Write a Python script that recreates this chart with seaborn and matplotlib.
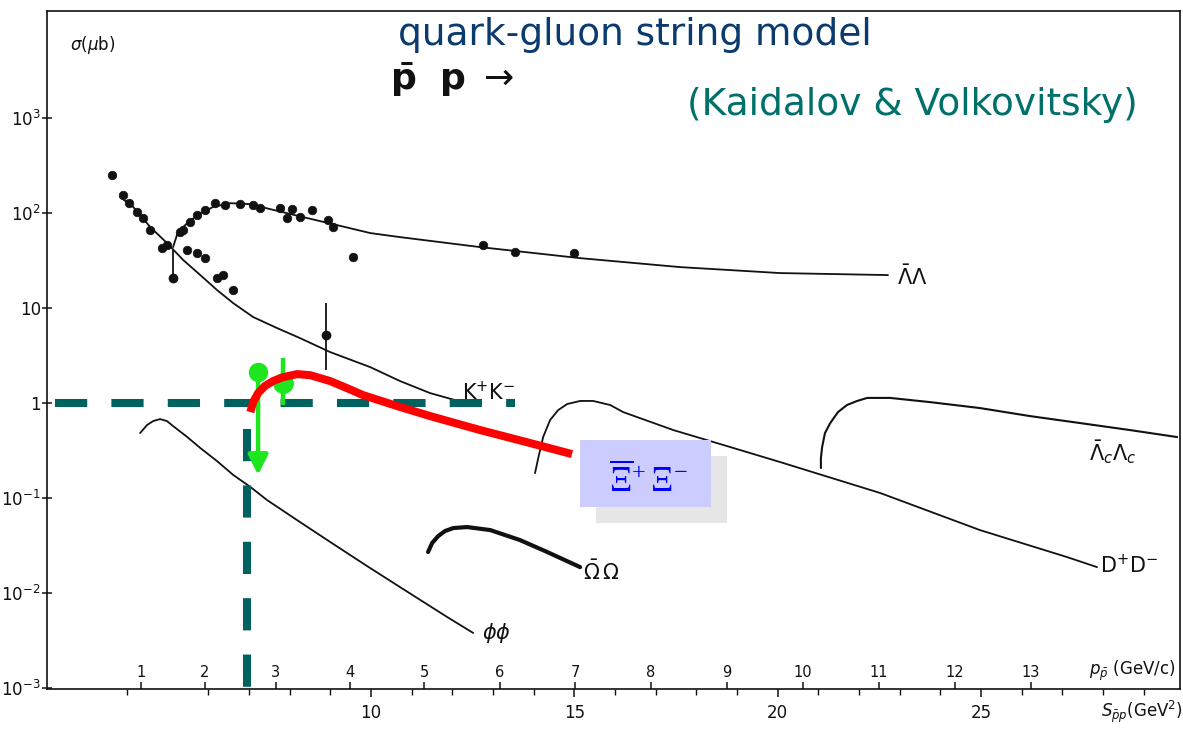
import numpy as np
import pandas as pd
import matplotlib
matplotlib.use("Agg")
import matplotlib.pyplot as plt
from matplotlib.patches import Rectangle
from matplotlib.ticker import FixedLocator, NullLocator
import seaborn as sns

sns.set_theme(style="white")
plt.rcParams["font.family"] = ["DejaVu Sans"]
plt.rcParams["mathtext.fontset"] = "dejavusans"
# serif face used by the "custom" math font set (only the Xi label uses it)
plt.rcParams["mathtext.rm"] = "Liberation Serif"
plt.rcParams["mathtext.it"] = "Liberation Serif:italic"
plt.rcParams["mathtext.bf"] = "Liberation Serif:bold"

M_P = 0.938272  # proton mass (GeV)


def s_from_p(p):
    """Invariant mass squared of pbar-p for beam momentum p (GeV/c)."""
    p = np.asarray(p, dtype=float)
    return 2 * M_P ** 2 + 2 * M_P * np.sqrt(p ** 2 + M_P ** 2)


# ---------------- model curves: s (GeV^2) vs sigma (microbarn) ----------------
lam_s = [5.13, 5.25, 5.48, 5.80, 6.12, 6.53, 7.03, 7.52, 8.33, 9.16, 9.98, 10.71,
         12.68, 15.14, 17.60, 20.06, 22.71]
lam_sig = [43.5, 62.6, 77.8, 99.1, 115, 126, 123, 109, 89.9, 74.1, 61.1, 55.4,
           43.5, 33.3, 26.8, 23.2, 22.1]

kk_s = [3.83, 4.15, 4.57, 4.98, 5.38, 5.80, 6.21, 6.61, 7.10, 7.69, 8.25, 8.99,
        9.98, 10.71, 11.45, 12.07]
kk_sig = [146, 115, 70.6, 48.0, 31.8, 22.1, 15.4, 11.2, 8.00, 6.12, 4.81, 3.43,
          2.38, 1.70, 1.27, 1.07]

phi_s = [4.32, 4.49, 4.64, 4.81, 4.98, 5.13, 5.48, 5.80, 6.21, 6.61, 7.03, 7.44,
         8.25, 9.07, 9.90, 10.71, 11.87, 12.51]
phi_sig = [0.483, 0.586, 0.645, 0.677, 0.645, 0.572, 0.438, 0.336, 0.245, 0.175,
           0.131, 0.0954, 0.0560, 0.0329, 0.0193, 0.0116, 0.00562, 0.00382]

omega_s = [11.40, 11.50, 11.65, 11.82, 12.02, 12.36, 12.93, 13.66, 14.33, 15.14]
omega_sig = [0.0271, 0.0337, 0.0399, 0.0451, 0.0484, 0.0496, 0.0461, 0.0362,
             0.0271, 0.0188]

dd_s = [14.03, 14.11, 14.23, 14.40, 14.60, 14.82, 15.14, 15.46, 15.88, 16.20,
        17.43, 18.83, 20.06, 22.52, 24.97, 27.11, 27.85]
dd_sig = [0.183, 0.264, 0.438, 0.661, 0.842, 0.974, 1.05, 1.05, 0.951, 0.801,
          0.519, 0.344, 0.239, 0.113, 0.0461, 0.0240, 0.0188]

lamc_s = [21.06, 21.06, 21.09, 21.16, 21.29, 21.48, 21.70, 21.95, 22.20, 22.52,
          22.76, 23.75, 24.97, 26.20, 27.43, 28.66, 29.82]
lamc_sig = [0.207, 0.264, 0.344, 0.483, 0.615, 0.802, 0.951, 1.05, 1.13, 1.13,
            1.13, 1.02, 0.884, 0.728, 0.615, 0.519, 0.438]

xi_s = [7.03, 7.10, 7.22, 7.39, 7.59, 7.84, 8.18, 8.50, 8.99, 9.41, 9.80, 10.64,
        11.45, 12.68, 13.91, 14.94]
xi_sig = [0.802, 1.02, 1.27, 1.51, 1.70, 1.87, 2.01, 1.96, 1.70, 1.43, 1.21, 0.928,
          0.728, 0.519, 0.379, 0.290]

# ---------------- measurements ----------------
lam_data_s = [5.30, 5.38, 5.55, 5.72, 5.92, 6.16, 6.41, 6.78, 7.10, 7.27, 7.76,
              7.93, 8.06, 8.25, 8.55, 8.94, 9.07, 9.56, 12.75, 13.54, 14.99]
lam_data_sig = [62.6, 65.7, 79.6, 94.4, 107, 126, 120, 123, 120, 112, 112,
                87.8, 109, 89.9, 107, 83.6, 70.6, 34.2, 45.7, 38.6, 37.7]

kk_data_s = [3.63, 3.90, 4.05, 4.25, 4.39, 4.57, 4.86, 4.98, 5.48, 5.72, 5.92,
             6.21, 6.36, 6.61]
kk_data_sig = [248, 153, 126, 102, 87.8, 65.7, 42.5, 45.7, 40.5, 37.7, 33.3,
               20.6, 22.1, 15.4]

err_s = [5.13, 8.89]
err_sig = [20.6, 5.17]
err_lo = [20.6, 2.22]
err_hi = [40.5, 11.2]

xi_limit_s = 7.22
xi_limit_sig = 2.11
xi_limit_tip = 0.175
xi_meas_s = 7.84
xi_meas_sig = 1.62
xi_meas_lo = 0.951
xi_meas_hi = 2.97

# reference lines: sigma = 1 microbarn and the Xi-bar Xi threshold
ref_sigma = 1.0
ref_h_s = [2.23, 13.54]
xi_threshold_s = 6.95
ref_v_sig = [0.53, 9.84e-4]

# axis ticks
s_major = [10, 15, 20, 25]
s_minor = [v for v in range(4, 30) if v % 5]
p_ticks = list(range(1, 14))
y_ticks = [1e-3, 1e-2, 1e-1, 1, 10, 1e2, 1e3]
y_labels = [r"$10^{-3}$", r"$10^{-2}$", r"$10^{-1}$", "1", "10", r"$10^{2}$", r"$10^{3}$"]

INK = "#111111"
TEAL_LINE = "#00625e"
GREEN = "#1ee61e"
RED = "#ff0000"

W, H = 1183, 730
fig = plt.figure(figsize=(W / 100, H / 100), dpi=100)
fig.patch.set_facecolor("white")
ax = fig.add_axes([47 / W, 1 - 689 / H, (1180 - 47) / W, (689 - 11) / H])
ax.set_yscale("log")
ax.set_xlim(2.03, 29.89)
ax.set_ylim(9.84e-4, 1.32e4)

# theory curves
curves = [
    (lam_s, lam_sig, 1.3),
    (kk_s, kk_sig, 1.3),
    (phi_s, phi_sig, 1.3),
    (omega_s, omega_sig, 3.0),
    (dd_s, dd_sig, 1.3),
    (lamc_s, lamc_sig, 1.5),
]
for cs, cy, lw in curves:
    sns.lineplot(x=cs, y=cy, ax=ax, sort=False, estimator=None, color=INK,
                 linewidth=lw, zorder=3)
    ax.lines[-1].set_solid_joinstyle("round")

# data points
pts = pd.DataFrame({"s": lam_data_s + kk_data_s,
                    "sigma": lam_data_sig + kk_data_sig})
sns.scatterplot(data=pts, x="s", y="sigma", ax=ax, color=INK, s=38,
                edgecolor=INK, linewidth=0.5, zorder=4)
ax.errorbar(err_s, err_sig,
            yerr=[np.array(err_sig) - np.array(err_lo), np.array(err_hi) - np.array(err_sig)],
            fmt="o", color=INK, ms=6, elinewidth=1.3, capsize=0, zorder=4)

# reference dashed lines
ax.plot(ref_h_s, [ref_sigma, ref_sigma], color=TEAL_LINE, lw=5.8,
        dashes=(4, 3), dash_capstyle="butt", zorder=5)
ax.plot([xi_threshold_s, xi_threshold_s], ref_v_sig, color=TEAL_LINE, lw=5.8,
        dashes=(4, 3), dash_capstyle="butt", zorder=5)

# Xi-bar Xi prediction
sns.lineplot(x=xi_s, y=xi_sig, ax=ax, sort=False, estimator=None, color=RED,
             linewidth=5.8, zorder=7)
ax.lines[-1].set_solid_capstyle("butt")
ax.lines[-1].set_solid_joinstyle("round")

# Xi-bar Xi measurements
ax.annotate("", xy=(xi_limit_s, xi_limit_tip), xytext=(xi_limit_s, xi_limit_sig),
            arrowprops=dict(arrowstyle="-|>", color=GREEN, lw=3.2,
                            mutation_scale=30, shrinkA=0, shrinkB=0), zorder=6)
ax.plot([xi_limit_s], [xi_limit_sig], "o", color=GREEN, ms=13, zorder=6)
ax.errorbar([xi_meas_s], [xi_meas_sig],
            yerr=[[xi_meas_sig - xi_meas_lo], [xi_meas_hi - xi_meas_sig]],
            fmt="o", color=GREEN, ms=14, elinewidth=3.2, capsize=0, zorder=6)

# curve labels
lab_kw = dict(textcoords="offset pixels", color=INK, fontsize=15, va="center",
              ha="left", annotation_clip=False)
ax.annotate(r"$\bar{\Lambda}\Lambda$", xy=(lam_s[-1], lam_sig[-1]), xytext=(9, -2), **lab_kw)
ax.annotate(r"$\mathrm{K}^{+}\mathrm{K}^{-}$", xy=(kk_s[-1], kk_sig[-1]), xytext=(7, 8), **lab_kw)
ax.annotate(r"$\bar{\Omega}\,\Omega$", xy=(omega_s[-1], omega_sig[-1]), xytext=(3, -5), **lab_kw)
ax.annotate(r"$\phi\phi$", xy=(phi_s[-1], phi_sig[-1]), xytext=(9, 0), **lab_kw)
ax.annotate(r"$\mathrm{D}^{+}\mathrm{D}^{-}$", xy=(dd_s[-1], dd_sig[-1]), xytext=(3, 2), **lab_kw)
ax.annotate(r"$\bar{\Lambda}_{c}\Lambda_{c}$", xy=(lamc_s[-1], lamc_sig[-1]),
            xytext=(-88, -15), **lab_kw)

# Xi label box with drop shadow
ax.add_patch(Rectangle(((596 - 47) / 1133, (689 - 523) / 678), 131 / 1133, 67 / 678,
                       transform=ax.transAxes, facecolor="#e6e6e6", edgecolor="none", zorder=8))
ax.add_patch(Rectangle(((580 - 47) / 1133, (689 - 507) / 678), 131 / 1133, 67 / 678,
                       transform=ax.transAxes, facecolor="#ccccff", edgecolor="none", zorder=9))
ax.text((648 - 47) / 1133, (689 - 481) / 678, r"$\overline{\mathrm{Ξ}}^{+}\,\mathrm{Ξ}^{-}$",
        transform=ax.transAxes, ha="center", va="center", fontsize=25, color="#0000ff",
        math_fontfamily="custom", zorder=10)

# axes frame and ticks
for sp in ax.spines.values():
    sp.set_visible(True)
    sp.set_color(INK)
    sp.set_linewidth(1.2)
ax.grid(False)
ax.yaxis.set_major_locator(FixedLocator(y_ticks))
ax.yaxis.set_minor_locator(NullLocator())
ax.set_yticklabels(y_labels)
ax.tick_params(axis="y", which="major", direction="inout", length=7, width=1.1,
               color=INK, labelsize=12, labelcolor=INK, pad=1, left=True)
ax.xaxis.set_major_locator(FixedLocator(s_major))
ax.xaxis.set_minor_locator(FixedLocator(s_minor))
ax.set_xticklabels([str(v) for v in s_major])
ax.tick_params(axis="x", which="major", direction="out", length=6, width=1.1,
               color=INK, labelsize=12, labelcolor=INK, pad=5, bottom=True)
ax.tick_params(axis="x", which="minor", direction="out", length=4, width=1.0,
               color=INK, bottom=True)
ax.set_xlabel("")
ax.set_ylabel("")

# beam-momentum scale drawn along the same bottom edge
axp = ax.twiny()
axp.set_xlim(ax.get_xlim())
axp.xaxis.set_ticks_position("bottom")
axp.xaxis.set_label_position("bottom")
for sp in axp.spines.values():
    sp.set_visible(False)
axp.xaxis.set_major_locator(FixedLocator(s_from_p(p_ticks)))
axp.xaxis.set_minor_locator(NullLocator())
axp.set_xticklabels([str(v) for v in p_ticks])
axp.tick_params(axis="x", which="major", direction="in", length=5, width=1.1,
                color=INK, labelsize=10.5, labelcolor=INK, pad=-17, bottom=True, top=False)
axp.grid(False)

# axis titles
ax.text((70 - 47) / 1133, (689 - 45) / 678, r"$\sigma$($\mu$b)", transform=ax.transAxes,
        ha="left", va="center", fontsize=12, color=INK)
ax.text((1176 - 47) / 1133, (689 - 671) / 678, r"$p_{\bar{p}}$ (GeV/c)",
        transform=ax.transAxes, ha="right", va="center", fontsize=12, color=INK)
fig.text(1.0, 1 - 712 / H, r"$S_{\bar{p}p}$(GeV$^{2}$)", ha="right", va="center",
         fontsize=12, color=INK)

# headings
fig.text(635 / W, 1 - 35 / H, "quark-gluon string model", ha="center", va="center",
         fontsize=27, color="#0b3b6e")
fig.text(912 / W, 1 - 105 / H, "(Kaidalov & Volkovitsky)", ha="center", va="center",
         fontsize=27, color="#00706b")
fig.text(452 / W, 1 - 80 / H, r"$\mathbf{\bar{p}\ \ p}\ \rightarrow$", ha="center",
         va="center", fontsize=26, color=INK, fontweight="bold")

fig.savefig("out.png", dpi=100, facecolor="white")
